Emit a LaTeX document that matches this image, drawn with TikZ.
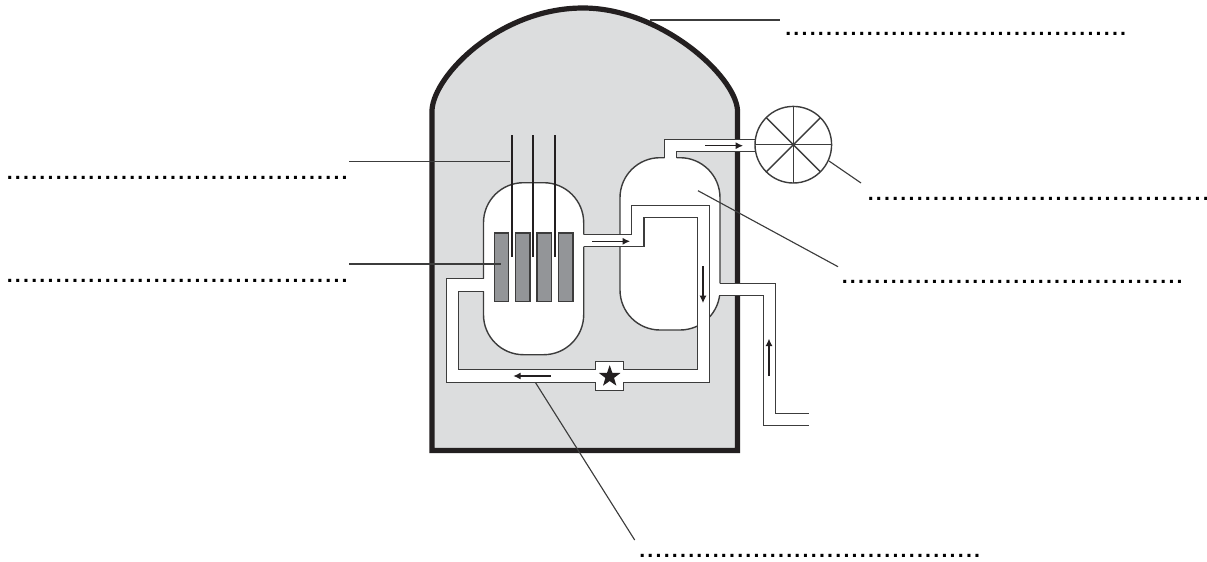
\documentclass[tikz,border=0pt]{standalone}
\usepackage{fontspec}
\usetikzlibrary{arrows.meta,shapes.geometric}
\newfontfamily\dotfont[LetterSpace=10.5]{Liberation Sans Bold}
\newcommand{\dotrow}{..........................................}
\tikzset{
    wall/.style={line width=3.9pt, draw=mywall, line join=miter},
    thinline/.style={line width=1.05pt, draw=myline, line join=miter},
    leader/.style={line width=0.85pt, draw=myline},
    flowarrow/.style={line width=0.8pt, draw=mywall, -{Latex[length=5.5pt,width=5.2pt]}},
    rod/.style={line width=1.3pt, draw=mywall},
    blank/.style={font=\dotfont\fontsize{16pt}{16pt}\selectfont, anchor=base west, inner sep=0pt}
}
\begin{document}
\begin{tikzpicture}[x=0.75pt, y=-0.75pt]
    \definecolor{mywall}{RGB}{35,31,32}
    \definecolor{myline}{RGB}{60,60,60}
    \definecolor{myshell}{RGB}{220,221,222}
    \definecolor{myfuel}{RGB}{147,149,152}
    \useasboundingbox (0,0) rectangle (1207,561);

    % containment
    \draw[wall, fill=myshell] (432,450.5) -- (432,110)
        .. controls (434,75) and (500,8) .. (583,8)
        .. controls (660,8) and (735,75) .. (737.5,110)
        -- (737.5,450.5) -- cycle;

    % vessels
    \draw[thinline, fill=white, rounded corners=30pt] (483.5,182.7) rectangle (583.7,354.7);
    \draw[thinline, fill=white, rounded corners=30pt] (620,157.7) rectangle (720,330);

    % fuel
    \foreach \x in {494.3,515.7,537,558.7}
        \draw[thinline, fill=myfuel] (\x,233) rectangle ++(14.4,68.7);

    % control rods
    \foreach \x in {512,533.3,555}
        \draw[rod] (\x,135) -- (\x,256.7);

    % primary loop
    \fill[white] (490,278.7) -- (446.7,278.7) -- (446.7,382.3) -- (709.3,382.3) -- (709.3,205.7)
        -- (631.7,205.7) -- (631.7,234.7) -- (578,234.7) -- (578,246.7) -- (644,246.7)
        -- (644,217.3) -- (697.7,217.3) -- (697.7,369.7) -- (458.3,369.7) -- (458.3,291.3)
        -- (490,291.3) -- cycle;
    \draw[thinline] (583.7,234.7) -- (631.7,234.7) -- (631.7,205.7) -- (709.3,205.7) -- (709.3,382.3) -- (623.7,382.3);
    \draw[thinline] (583.7,246.7) -- (644,246.7) -- (644,217.3) -- (697.7,217.3) -- (697.7,369.7) -- (623.7,369.7);
    \draw[thinline] (595.3,369.7) -- (458.3,369.7) -- (458.3,291.3) -- (483.5,291.3);
    \draw[thinline] (595.3,382.3) -- (446.7,382.3) -- (446.7,278.7) -- (483.5,278.7);

    % pump
    \fill[white] (595.3,361.7) rectangle (623.7,390.3);
    \draw[thinline] (595.3,369.7) -- (595.3,361.7) -- (623.7,361.7) -- (623.7,369.7);
    \draw[thinline] (595.3,382.3) -- (595.3,390.3) -- (623.7,390.3) -- (623.7,382.3);
    \node[star, star points=5, star point ratio=2.5, fill=mywall, inner sep=0pt, minimum size=17pt] (pump) at (609.7,376.5) {};

    % steam line
    \fill[white] (664.7,165) -- (664.7,139.3) -- (757,139.3) -- (757,151.3) -- (676.7,151.3) -- (676.7,165) -- cycle;
    \draw[thinline] (664.7,157.7) -- (664.7,139.3) -- (757,139.3);
    \draw[thinline] (676.7,157.7) -- (676.7,151.3) -- (757,151.3);

    % feed line
    \fill[white] (714,283.3) -- (775.3,283.3) -- (775.3,413.7) -- (809,413.7) -- (809,425.7)
        -- (763.5,425.7) -- (763.5,295.7) -- (714,295.7) -- cycle;
    \draw[thinline] (720,283.3) -- (775.3,283.3) -- (775.3,413.7) -- (809,413.7);
    \draw[thinline] (719,295.7) -- (763.5,295.7) -- (763.5,425.7) -- (809,425.7);

    % turbine
    \draw[thinline, fill=white] (793.3,144.7) circle (38.3);
    \foreach \a in {0,45,...,315}
        \draw[thinline] (793.3,144.7) -- ++(\a:38.3);

    % flow
    \draw[flowarrow] (592,241.3) -- (630,241.3);
    \draw[flowarrow] (705,145.7) -- (743,145.7);
    \draw[flowarrow] (703,266) -- (703,303);
    \draw[flowarrow] (769,376) -- (769,338.7);
    \draw[flowarrow] (550.7,376) -- (513.3,376);

    % leaders
    \draw[leader] (650,20) -- (780,20);
    \draw[leader] (349,161.3) -- (510,161.3);
    \draw[leader] (349,264) -- (501,264);
    \draw[leader] (698,190.7) -- (838,266.7);
    \draw[leader] (829,161) -- (861,183);
    \draw[leader] (535.3,382.3) -- (634.7,540);

    % blanks
    \node[blank] (domelabel) at (785,35.5) {\dotrow};
    \node[blank] (rodlabel) at (6.5,179.5) {\dotrow};
    \node[blank] (fuellabel) at (6.5,282.8) {\dotrow};
    \node[blank] (turbinelabel) at (867.5,200.2) {\dotrow};
    \node[blank] (boilerlabel) at (841.5,283.5) {\dotrow};
    \node[blank] (looplabel) at (639,557.5) {\dotrow};
\end{tikzpicture}
\end{document}
